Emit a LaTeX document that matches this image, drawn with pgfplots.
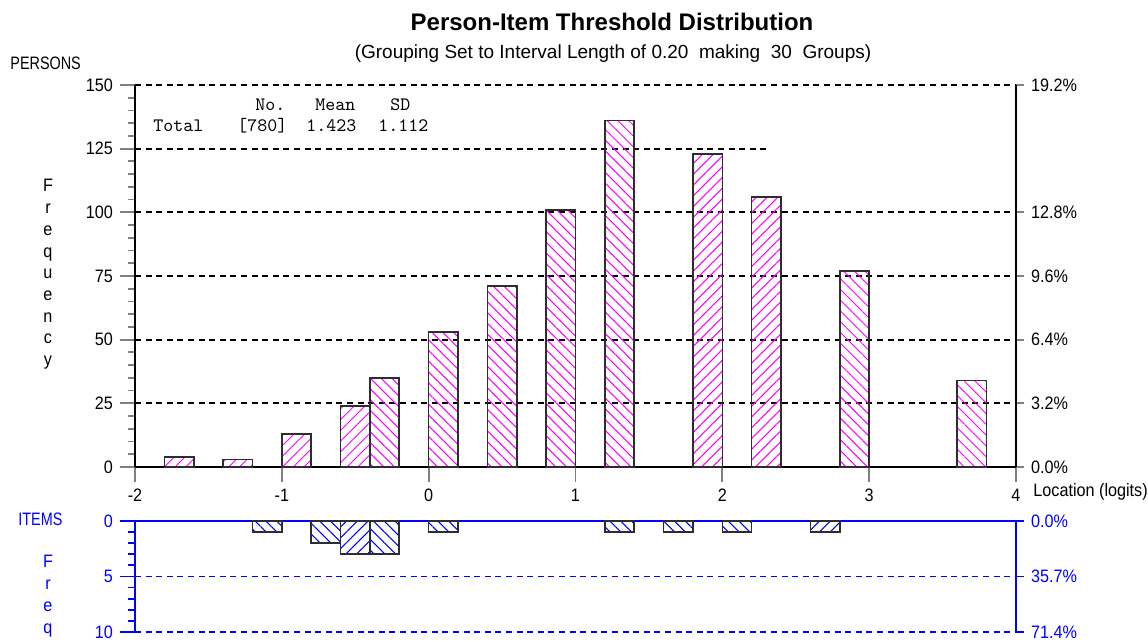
\documentclass[border=0pt]{standalone}
\usepackage{fontspec}
\setmainfont{Liberation Sans}[FakeStretch=0.9]
\newfontfamily\titlefont{Liberation Sans}
\newfontfamily\capsfont{Liberation Sans}[FakeStretch=0.8]
\usepackage{pgfplots}
\pgfplotsset{compat=1.18}
\usetikzlibrary{patterns.meta}

\definecolor{hatchpink}{RGB}{255,0,255}
\definecolor{itemblue}{RGB}{0,0,255}
\definecolor{baredge}{RGB}{45,45,45}

\tikzset{
  griddash/.style={black, line width=0.9pt, dash pattern=on 3pt off 2.3pt},
  bluedash/.style={itemblue, line width=0.9pt, dash pattern=on 3pt off 2.3pt},
}

\pgfplotsset{
  base/.style={
    scale only axis, width=440.5pt,
    xmin=-2, xmax=4,
    axis line style={-, line width=1.3pt},
    tick style={line width=0.9pt},
    tick align=outside,
    major tick length=7.5pt, minor tick length=3.5pt,
    ticklabel style={font=\fontsize{9}{10}\selectfont},
    /pgf/number format/assume math mode=true,
    clip=false,
  },
  pbar/.style 2 args={ybar, bar shift=0pt, bar width=0.2,
    draw=baredge, line width=0.8pt,
    pattern={Lines[angle=#1, distance=3.8pt, line width=0.5pt]},
    pattern color=#2},
}

\begin{document}
\begin{tikzpicture}

% persons: threshold frequencies per 0.2-logit interval
\begin{axis}[base, at={(0,0)}, anchor=south west, height=191pt,
  ymin=0, ymax=150,
  axis x line*=bottom, axis y line*=left,
  xtick={-2,-1,0,1,2,3,4}, ytick={0,25,50,75,100,125,150},
  minor y tick num=4,
]
\draw[griddash] (axis cs:-2,25) -- (axis cs:4,25);
\draw[griddash] (axis cs:-2,50) -- (axis cs:4,50);
\draw[griddash] (axis cs:-2,75) -- (axis cs:4,75);
\draw[griddash] (axis cs:-2,100) -- (axis cs:4,100);
\draw[griddash] (axis cs:-2,125) -- (axis cs:2.31,125);
\draw[griddash] (axis cs:-2,150) -- (axis cs:4,150);

\addplot[pbar={45}{hatchpink}] coordinates
  {(-1.7,4) (-1.3,3) (-0.9,13) (-0.5,24) (1.9,123) (2.3,106)};
\addplot[pbar={-45}{hatchpink}] coordinates
  {(-0.3,35) (0.1,53) (0.5,71) (0.9,101) (1.3,136) (2.9,77) (3.7,34)};

\begin{scope}[every node/.style={inner sep=0pt, anchor=base west,
    font=\ttfamily\fontsize{9.5}{11}\selectfont}]
\node at (axis cs:-1.183,139.8) {No.};
\node at (axis cs:-0.774,139.8) {Mean};
\node at (axis cs:-0.263,139.8) {SD};
\node at (axis cs:-1.877,131.9) {Total};
\node at (axis cs:-1.305,131.9) {[780]};
\node at (axis cs:-0.835,131.9) {1.423};
\node at (axis cs:-0.345,131.9) {1.112};
\end{scope}
\end{axis}

% percentage scale for persons (780 in total)
\begin{axis}[base, at={(0,0)}, anchor=south west, height=191pt,
  ymin=0, ymax=150,
  axis x line=none, axis y line*=right,
  ytick={0,25,50,75,100,150},
  yticklabels={0.0\%,3.2\%,6.4\%,9.6\%,12.8\%,19.2\%},
  major tick length=4pt,
]
\end{axis}

% items: threshold frequencies, drawn downwards
\begin{axis}[base, at={(0,-27pt)}, anchor=north west, height=55.5pt,
  ymin=0, ymax=10, y dir=reverse,
  axis x line=none, axis y line*=left,
  ytick={0,5,10}, minor y tick num=4,
  axis line style={itemblue}, every tick/.style={itemblue, line width=0.9pt},
  yticklabel style={text=itemblue},
]
\draw[itemblue, line width=1.3pt] (axis cs:-2,0) -- (axis cs:4,0);
\draw[bluedash] (axis cs:-2,5) -- (axis cs:4,5);
\draw[bluedash] (axis cs:-2,10) -- (axis cs:4,10);
\addplot[pbar={-45}{itemblue}] coordinates
  {(-1.1,1) (-0.7,2) (-0.3,3) (0.1,1) (1.3,1) (1.7,1) (2.1,1)};
\addplot[pbar={45}{itemblue}] coordinates
  {(-0.5,3) (2.7,1)};
\end{axis}

% percentage scale for items (14 in total)
\begin{axis}[base, at={(0,-27pt)}, anchor=north west, height=55.5pt,
  ymin=0, ymax=10, y dir=reverse,
  axis x line=none, axis y line*=right,
  ytick={0,5,10},
  yticklabels={0.0\%,35.7\%,71.4\%},
  major tick length=4pt,
  axis line style={itemblue}, every tick/.style={itemblue, line width=0.9pt},
  yticklabel style={text=itemblue},
]
\end{axis}

% titles and axis captions
\begin{scope}[every node/.style={inner sep=0pt}]
\node[anchor=base, font=\titlefont\bfseries\fontsize{12}{14}\selectfont]
  at (238.5pt,218pt) {Person-Item Threshold Distribution};
\node[anchor=base, font=\titlefont\fontsize{9.5}{11}\selectfont]
  at (239pt,204pt) {(Grouping Set to Interval Length of 0.20\ \ making\ \ 30\ \ Groups)};
\node[anchor=base west, font=\capsfont\fontsize{9}{11}\selectfont] at (-62.5pt,198.5pt) {PERSONS};
\node[anchor=base west, font=\fontsize{9}{11}\selectfont] at (449pt,-15pt) {Location (logits)};
\foreach \ch [count=\i from 0] in {F,r,e,q,u,e,n,c,y}
  \node[anchor=base, font=\fontsize{9}{11}\selectfont] at (-43.5pt,{137.5pt-\i*10.85pt}) {\ch};
\node[anchor=base west, text=itemblue, font=\capsfont\fontsize{9}{11}\selectfont] at (-58.5pt,-29.5pt) {ITEMS};
\foreach \ch [count=\i from 0] in {F,r,e,q}
  \node[anchor=base, text=itemblue, font=\fontsize{9}{11}\selectfont] at (-43.5pt,{-50.5pt-\i*11pt}) {\ch};
\end{scope}

\pgfresetboundingbox
\useasboundingbox (-67.5pt,-87.5pt) rectangle (506.5pt,233.5pt);
\end{tikzpicture}
\end{document}
